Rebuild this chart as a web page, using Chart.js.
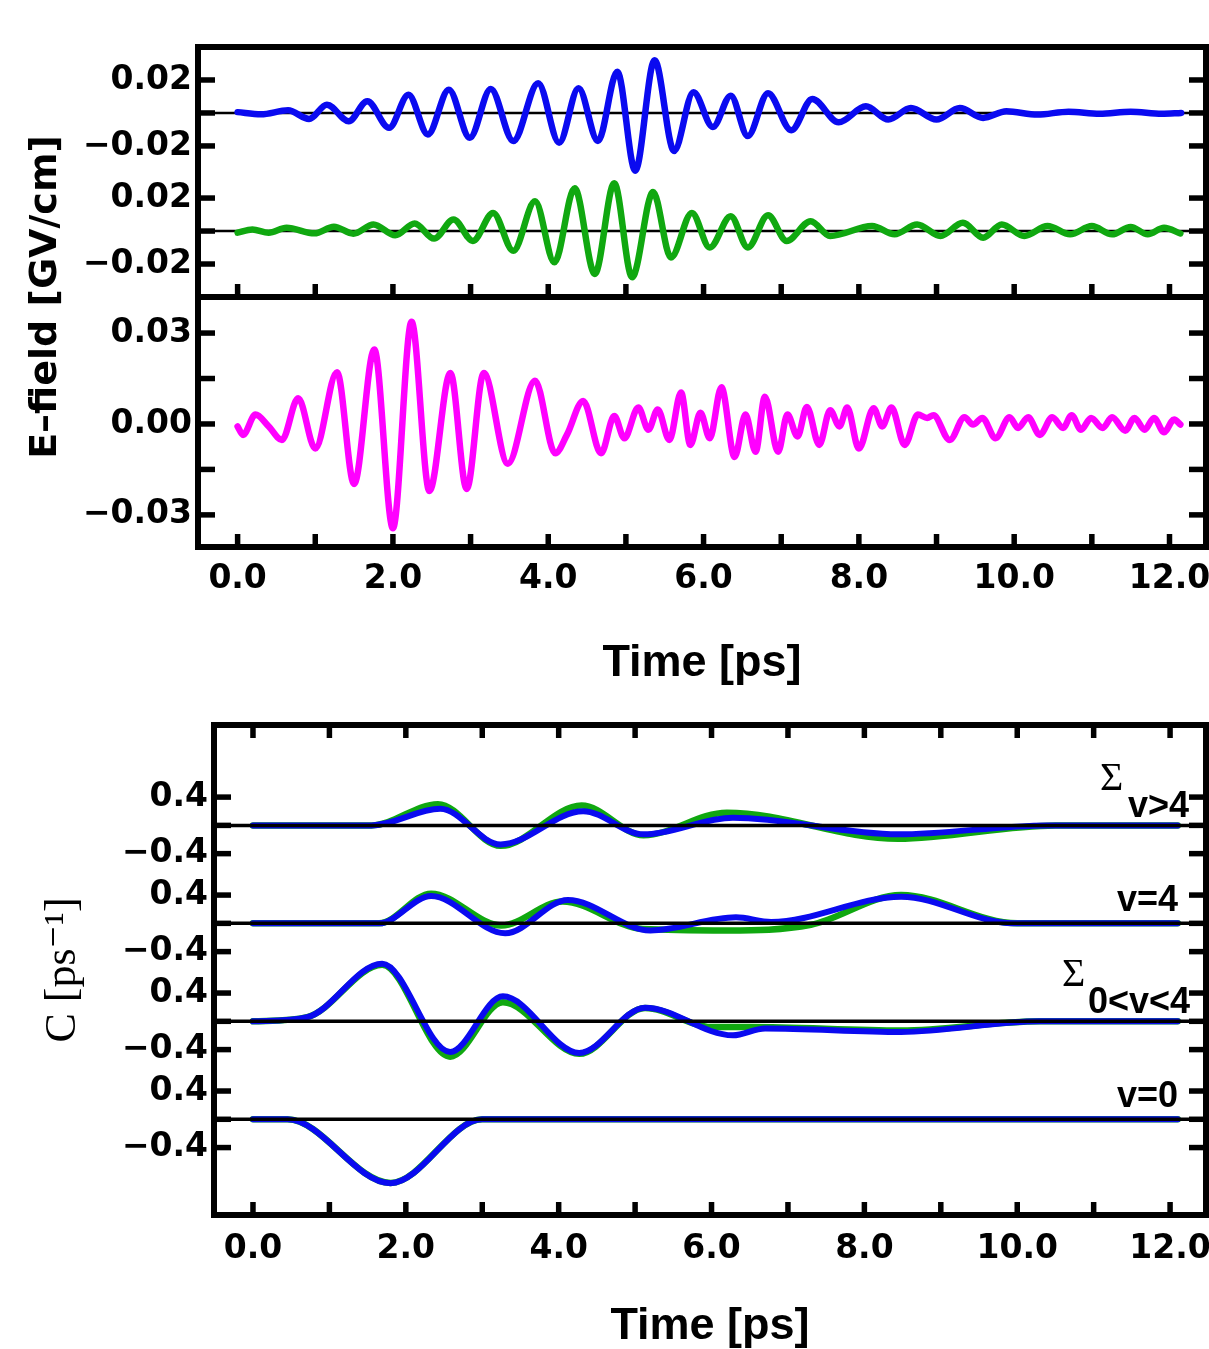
<!DOCTYPE html>
<html><head><meta charset="utf-8">
<script src="https://cdn.jsdelivr.net/npm/chart.js@4.4.1/dist/chart.umd.min.js"></script>
<style>
html,body{margin:0;padding:0;background:#fff;overflow:hidden;width:1209px;height:1349px}
#c1{position:absolute;left:0;top:0}
#c2{position:absolute;left:0;top:700px}
</style></head><body>
<canvas id="c1" width="1209" height="710"></canvas>
<canvas id="c2" width="1209" height="660"></canvas>
<script>
// ---------- tick values / labels ----------
const X_TICKS = [0,1,2,3,4,5,6,7,8,9,10,11,12];
const X_LABELED = [0,2,4,6,8,10,12];
const E_TICKS = [-0.02, 0, 0.02];
const E_LABELED = [-0.02, 0.02];
const M_TICKS = [-0.03, -0.015, 0, 0.015, 0.03];
const M_LABELED = [-0.03, 0, 0.03];
const C_TICKS = [-0.4, 0, 0.4];
const C_LABELED = [-0.4, 0.4];
const LABELS_C = ['\u03A3', 'v>4', 'v=4', '\u03A3', '0<v<4', 'v=0'];

// ---------- top panel: E-field (blue) ----------
const T_EB = [0.00,0.30,0.65,0.92,1.15,1.43,1.67,1.95,2.20,2.45,2.72,2.99,3.26,3.55,3.87,4.14,4.39,4.64,4.89,5.12,5.37,5.62,5.87,6.12,6.35,6.57,6.83,7.13,7.40,7.74,8.09,8.38,8.67,9.00,9.30,9.60,9.90,10.30,10.70,11.10,11.50,11.90,12.15];
const V_EB = [0.0005,-0.0008,0.0016,-0.0036,0.005,-0.005,0.0071,-0.009,0.011,-0.013,0.0141,-0.015,0.0145,-0.017,0.018,-0.018,0.015,-0.017,0.025,-0.035,0.032,-0.023,0.0125,-0.0085,0.0105,-0.014,0.012,-0.0105,0.0085,-0.0057,0.004,-0.004,0.003,-0.004,0.003,-0.003,0.001,-0.001,0.0008,-0.0005,0.0008,-0.0005,0.0];
// ---------- top panel: E-field (green) ----------
const T_EG = [0.00,0.19,0.40,0.63,0.99,1.24,1.49,1.75,2.03,2.28,2.53,2.78,3.03,3.29,3.55,3.83,4.08,4.34,4.60,4.85,5.08,5.35,5.58,5.85,6.08,6.35,6.57,6.83,7.07,7.38,7.63,8.17,8.46,8.75,9.05,9.34,9.60,9.84,10.13,10.43,10.72,11.00,11.26,11.50,11.72,11.93,12.14];
const V_EG = [-0.001,0.001,-0.001,0.002,-0.0014,0.0026,-0.0016,0.004,-0.0026,0.0046,-0.0046,0.007,-0.006,0.011,-0.012,0.018,-0.019,0.026,-0.026,0.029,-0.028,0.0236,-0.016,0.011,-0.010,0.009,-0.010,0.0095,-0.006,0.006,-0.003,0.003,-0.002,0.004,-0.003,0.005,-0.004,0.004,-0.003,0.003,-0.002,0.003,-0.002,0.0025,-0.002,0.002,-0.0015];
// ---------- middle panel: E-field (magenta) ----------
const T_EM = [0.00,0.07,0.23,0.40,0.57,0.78,1.00,1.28,1.50,1.76,2.00,2.24,2.47,2.74,2.95,3.17,3.48,3.83,4.09,4.24,4.45,4.68,4.85,4.98,5.16,5.29,5.41,5.56,5.71,5.83,5.96,6.08,6.23,6.40,6.54,6.67,6.79,6.96,7.08,7.21,7.33,7.49,7.63,7.75,7.85,8.00,8.19,8.30,8.42,8.59,8.76,8.88,8.96,9.17,9.36,9.47,9.59,9.76,9.94,10.05,10.18,10.33,10.49,10.63,10.74,10.86,10.99,11.14,11.26,11.43,11.55,11.68,11.80,11.93,12.06,12.14];
const V_EM = [-0.0008,-0.0036,0.0031,-0.0008,-0.0053,0.0085,-0.0081,0.0171,-0.0198,0.0246,-0.0344,0.0337,-0.0221,0.0168,-0.0215,0.0168,-0.0131,0.0143,-0.0097,-0.0036,0.0076,-0.0097,0.0026,-0.0047,0.0054,-0.0019,0.0048,-0.0053,0.0104,-0.0069,0.0037,-0.0047,0.0121,-0.0109,0.0031,-0.0092,0.0090,-0.0092,0.0031,-0.0041,0.0056,-0.0069,0.0045,-0.0008,0.0054,-0.0081,0.0052,-0.0008,0.0054,-0.0069,0.0031,0.0020,0.0029,-0.0053,0.0022,-0.0002,0.0020,-0.0047,0.0022,-0.0013,0.0022,-0.0036,0.0022,-0.0013,0.0029,-0.0019,0.0020,-0.0013,0.0022,-0.0022,0.0020,-0.0019,0.0020,-0.0027,0.0015,-0.0002];

// ---------- bottom panel: C, sum v>4 ----------
const T_S4_B = [0,1.55,2.45,3.24,4.32,5.11,6.28,8.44,10.4,12.1];
const V_S4_B = [0,0,0.235,-0.27,0.20,-0.127,0.108,-0.127,0,0];
const T_S4_G = [0,1.55,2.42,3.24,4.30,5.11,6.20,8.44,10.5,12.1];
const V_S4_G = [0,0,0.30,-0.29,0.28,-0.14,0.18,-0.19,0,0];
// ---------- v=4 ----------
const T_V4_B = [0,1.65,2.33,3.30,4.12,5.20,6.32,6.78,8.48,9.95,12.1];
const V_V4_B = [0,0,0.386,-0.141,0.33,-0.10,0.085,0.02,0.377,0,0];
const T_V4_G = [0,1.65,2.33,3.25,4.05,5.10,6.20,7.30,8.48,10.0,12.1];
const V_V4_G = [0,0,0.42,-0.03,0.31,-0.08,-0.10,-0.02,0.40,0,0];
// ---------- sum 0<v<4 ----------
const T_S03_B = [0,0.71,1.69,2.58,3.27,4.27,5.13,6.28,6.70,8.48,10.3,12.1];
const V_S03_B = [0,0.06,0.815,-0.433,0.353,-0.447,0.193,-0.198,-0.10,-0.15,0,0];
const T_S03_G = [0,0.71,1.69,2.58,3.27,4.27,5.13,6.0,6.5,8.48,10.3,12.1];
const V_S03_G = [0,0.06,0.80,-0.50,0.27,-0.46,0.19,-0.08,-0.08,-0.13,0,0];
// ---------- v=0 ----------
const T_V0_B = [0,0.45,1.80,3.0,12.1];
const V_V0_B = [0,0,-0.904,0,0];
const T_V0_G = [0,0.45,1.80,3.0,12.1];
const V_V0_G = [0,0,-0.90,0,0];

// ---------- styling ----------
const BLUE = '#0a0af0', GREEN = '#10a810', MAGENTA = '#ff00ff';
const TICK_FONT = {family: 'DejaVu Sans', size: 33, weight: 'bold', lineHeight: 1.2};
const XTITLE_FONT = {family: 'Liberation Sans', size: 45, weight: 'bold', lineHeight: 1.2};
const YTITLE1_FONT = {family: 'DejaVu Sans', size: 38, weight: 'bold', lineHeight: 1.2};
const YTITLE2_FONT = {family: "'Liberation Serif', 'DejaVu Serif', serif", size: 44, weight: 'normal', lineHeight: 1.2};
const X_MIN = -0.51, X_MAX = 12.47;

const fmt = (v, d) => (v < 0 ? '\u2212' : '') + Math.abs(v).toFixed(d);
const pts = (T, V) => T.map((t, i) => ({x: t, y: V[i]}));
const ds = (label, T, V, color, width, axis, order) => ({
  label, data: pts(T, V), borderColor: color, backgroundColor: color, borderWidth: width,
  yAxisID: axis, pointRadius: 0, cubicInterpolationMode: 'monotone', fill: false, order, clip: false,
  borderCapStyle: 'round', borderJoinStyle: 'round'
});

function xAxis(height, labelPad, titlePad) {
  return {
    type: 'linear', position: 'bottom', min: X_MIN, max: X_MAX,
    afterBuildTicks: s => { s.ticks = X_TICKS.map(v => ({value: v})); },
    ticks: {autoSkip: false, maxRotation: 0, minRotation: 0, padding: labelPad, font: TICK_FONT, color: '#000',
      callback: v => X_LABELED.includes(v) ? v.toFixed(1) : ''},
    grid: {display: false, drawTicks: false}, border: {display: false},
    title: {display: true, text: 'Time [ps]', font: XTITLE_FONT, color: '#000', padding: {top: 0, bottom: titlePad}},
    afterFit: s => { s.height = height; s.paddingLeft = 0; s.paddingRight = 0; }
  };
}
function titleAxis(text, font, width, pad) {
  return {
    type: 'linear', position: 'left', weight: 10, min: 0, max: 1,
    ticks: {display: false}, grid: {display: false, drawTicks: false}, border: {display: false},
    title: {display: true, text, font, color: '#000', padding: {top: pad, bottom: 0}},
    afterFit: s => { s.width = width; s.paddingTop = 0; s.paddingBottom = 0; }
  };
}
function stackAxis(stack, min, max, weight, stackWeight, ticks, labeled, dec, width) {
  return {
    type: 'linear', position: 'left', stack, stackWeight, weight, min, max,
    afterBuildTicks: s => { s.ticks = ticks.map(v => ({value: v})); },
    ticks: {autoSkip: false, padding: 6, font: TICK_FONT, color: '#000',
      callback: v => labeled.includes(v) ? fmt(v, dec) : ''},
    grid: {display: false, drawTicks: false}, border: {display: false},
    afterFit: s => { s.width = width; s.paddingTop = 0; s.paddingBottom = 0; }
  };
}

function seg(ctx, x1, y1, x2, y2) { ctx.beginPath(); ctx.moveTo(x1, y1); ctx.lineTo(x2, y2); ctx.stroke(); }
function zeroLines(chart, o) {
  const {ctx, chartArea: ca, scales} = chart;
  ctx.save(); ctx.strokeStyle = '#000'; ctx.lineWidth = o.zeroWidth;
  for (const id of o.zeroAxes) { const y = scales[id].getPixelForValue(0); seg(ctx, ca.left, y, ca.right, y); }
  ctx.restore();
}
const framePlugin = {
  id: 'frame',
  beforeDatasetsDraw(chart, a, o) { if (!o.zeroOnTop) zeroLines(chart, o); },
  afterDatasetsDraw(chart, a, o) {
    if (o.zeroOnTop) zeroLines(chart, o);
    const {ctx, chartArea: ca, scales} = chart;
    ctx.save(); ctx.strokeStyle = '#000'; ctx.lineCap = 'butt';
    ctx.lineWidth = o.tickWidth;
    const xs = scales.x;
    for (const e of o.xEdges) {
      const y0 = e.axis ? scales[e.axis][e.side] : ca[e.side];
      for (const t of xs.ticks) { const px = xs.getPixelForValue(t.value); seg(ctx, px, y0, px, y0 + e.dir * o.xTickLen); }
    }
    for (const id of o.yAxes) {
      const s = scales[id];
      for (const t of s.ticks) {
        const py = s.getPixelForValue(t.value);
        seg(ctx, ca.left, py, ca.left + o.yTickLen, py);
        seg(ctx, ca.right, py, ca.right - o.yTickLen, py);
      }
    }
    ctx.lineWidth = o.frameWidth;
    ctx.strokeRect(ca.left, ca.top, ca.right - ca.left, ca.bottom - ca.top);
    for (const id of o.separators) { const y = scales[id].bottom; seg(ctx, ca.left, y, ca.right, y); }
    ctx.restore();
  }
};
const notePlugin = {
  id: 'notes',
  afterDraw(chart, a, o) {
    if (!o.items) return;
    const {ctx, scales} = chart;
    ctx.save(); ctx.fillStyle = '#000'; ctx.textAlign = 'left'; ctx.textBaseline = 'alphabetic';
    for (const it of o.items) {
      const y0 = scales[it.axis].getPixelForValue(0);
      for (const p of it.parts) { ctx.font = p.font; ctx.fillText(p.text, p.x, y0 + p.dy); }
    }
    ctx.restore();
  }
};

const common = {
  responsive: false, animation: false, events: [],
  plugins: {legend: {display: false}, tooltip: {enabled: false}}
};

// ---------- chart 1: E-field panels ----------
new Chart(document.getElementById('c1'), {
  type: 'line',
  data: {datasets: [
    ds('E blue', T_EB, V_EB, BLUE, 6.5, 'yB', 0),
    ds('E green', T_EG, V_EG, GREEN, 6.5, 'yG', 1),
    ds('E magenta', T_EM, V_EM, MAGENTA, 6.5, 'yM', 2)
  ]},
  plugins: [framePlugin],
  options: Object.assign({}, common, {
    layout: {padding: {top: 47, right: 3, left: 0, bottom: 0}},
    scales: {
      x: xAxis(163, 13, 19),
      yT: titleAxis('E\u2013field [GV/cm]', YTITLE1_FONT, 70, 23),
      yM: stackAxis('ef', -0.0406, 0.0419, 1, 2, M_TICKS, M_LABELED, 2, 128),
      yG: stackAxis('ef', -0.04, 0.0358, 2, 1, E_TICKS, E_LABELED, 2, 128),
      yB: stackAxis('ef', -0.0358, 0.04, 3, 1, E_TICKS, E_LABELED, 2, 128)
    },
    plugins: Object.assign({}, common.plugins, {
      frame: {zeroOnTop: false, zeroAxes: ['yB', 'yG'], zeroWidth: 2.5, tickWidth: 5.5, xTickLen: 13, yTickLen: 17,
        frameWidth: 6, separators: ['yG'], yAxes: ['yB', 'yG', 'yM'],
        xEdges: [{axis: 'yG', side: 'bottom', dir: -1}, {side: 'bottom', dir: -1}]}
    })
  })
});

// ---------- chart 2: C panels ----------
const SIGMA_FONT = "40px 'Liberation Serif', 'DejaVu Serif', serif";
const NOTE_FONT = "bold 36px 'Liberation Sans', sans-serif";
new Chart(document.getElementById('c2'), {
  type: 'line',
  data: {datasets: [
    ds('S>4 blue', T_S4_B, V_S4_B, BLUE, 6, 'y3', 0),
    ds('v4 blue', T_V4_B, V_V4_B, BLUE, 6, 'y2', 0),
    ds('S03 blue', T_S03_B, V_S03_B, BLUE, 6, 'y1', 0),
    ds('v0 blue', T_V0_B, V_V0_B, BLUE, 6, 'y0', 0),
    ds('S>4 green', T_S4_G, V_S4_G, GREEN, 6.5, 'y3', 1),
    ds('v4 green', T_V4_G, V_V4_G, GREEN, 6.5, 'y2', 1),
    ds('S03 green', T_S03_G, V_S03_G, GREEN, 6.5, 'y1', 1),
    ds('v0 green', T_V0_G, V_V0_G, GREEN, 6.5, 'y0', 1)
  ]},
  plugins: [framePlugin, notePlugin],
  options: Object.assign({}, common, {
    layout: {padding: {top: 25, right: 3, left: 0, bottom: 0}},
    scales: {
      x: xAxis(145, 15, 6),
      yT: titleAxis('C [ps\u207B\u00B9]', YTITLE2_FONT, 100, 37),
      y0: stackAxis('c', -1.354, 0.693, 1, 2.047, C_TICKS, C_LABELED, 1, 114),
      y1: stackAxis('c', -0.693, 0.693, 2, 1.386, C_TICKS, C_LABELED, 1, 114),
      y2: stackAxis('c', -0.693, 0.693, 3, 1.386, C_TICKS, C_LABELED, 1, 114),
      y3: stackAxis('c', -0.693, 1.42, 4, 2.113, C_TICKS, C_LABELED, 1, 114)
    },
    plugins: Object.assign({}, common.plugins, {
      frame: {zeroOnTop: true, zeroAxes: ['y3', 'y2', 'y1', 'y0'], zeroWidth: 3.5, tickWidth: 5.5, xTickLen: 13, yTickLen: 17,
        frameWidth: 6, separators: [], yAxes: ['y3', 'y2', 'y1', 'y0'],
        xEdges: [{side: 'top', dir: 1}, {side: 'bottom', dir: -1}]},
      notes: {items: [
        {axis: 'y3', parts: [{text: LABELS_C[0], x: 1100, dy: -35, font: SIGMA_FONT}, {text: LABELS_C[1], x: 1128, dy: -8, font: NOTE_FONT}]},
        {axis: 'y2', parts: [{text: LABELS_C[2], x: 1117, dy: -12, font: NOTE_FONT}]},
        {axis: 'y1', parts: [{text: LABELS_C[3], x: 1062, dy: -35, font: SIGMA_FONT}, {text: LABELS_C[4], x: 1088, dy: -8, font: NOTE_FONT}]},
        {axis: 'y0', parts: [{text: LABELS_C[5], x: 1117, dy: -12, font: NOTE_FONT}]}
      ]}
    })
  })
});
</script></body></html>
